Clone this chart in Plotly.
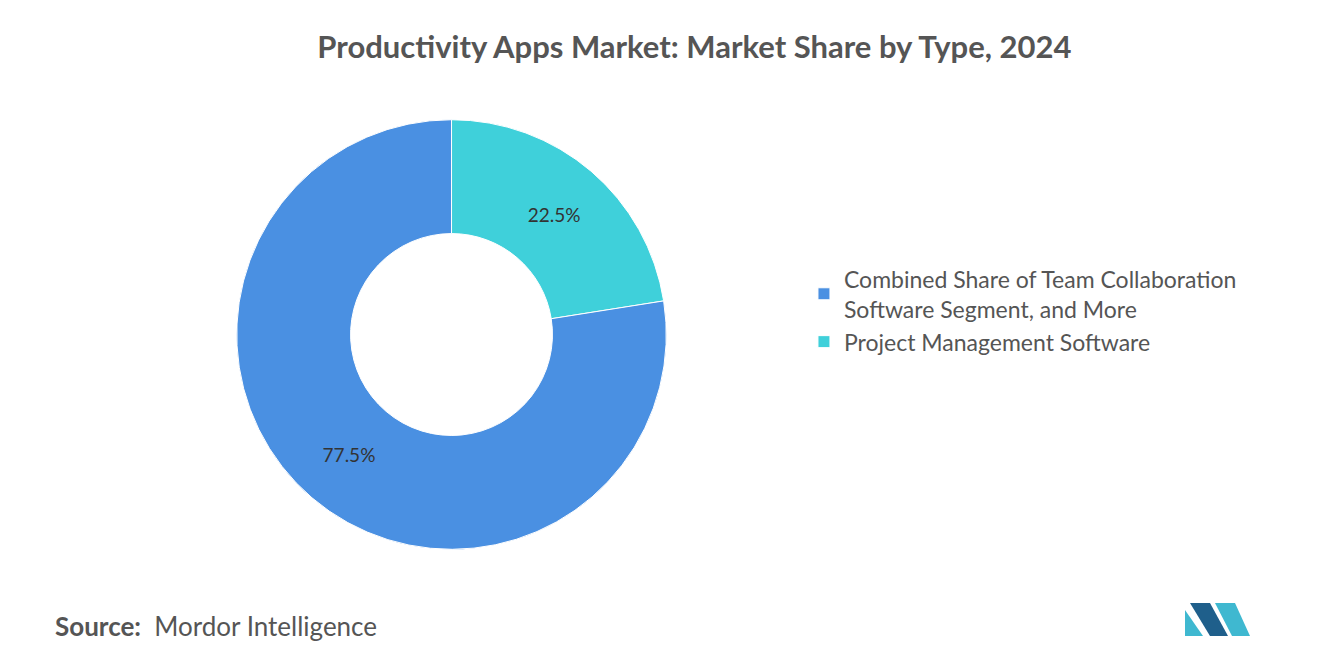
import plotly.graph_objects as go

labels = ["Project Management Software", "Combined Share of Team Collaboration<br>Software Segment, and More"]
values = [22.5, 77.5]
colors = ["#3FD0DA", "#4A90E2"]

fig = go.Figure(go.Pie(
    labels=labels, values=values, hole=0.47, sort=False, direction="clockwise", rotation=0,
    marker=dict(colors=colors, line=dict(color="white", width=1)),
    texttemplate="%{value}%", textposition="inside",
    insidetextfont=dict(color="#333", size=19, family="Lato"),
    domain=dict(x=[0.173, 0.499], y=[0.186, 0.832]),
))
fig.update_layout(
    template="none",
    width=1320, height=665, margin=dict(l=0, r=0, t=0, b=0),
    paper_bgcolor="white", plot_bgcolor="white", font=dict(family="Lato", color="#555"),
    title=dict(text="<b>Productivity Apps Market: Market Share by Type, 2024</b>", x=0.52, y=0.941,
               xanchor="center", yanchor="middle", font=dict(size=31, color="#555", family="Lato")),
    legend=dict(x=0.603, y=0.625, xanchor="left", yanchor="top", font=dict(size=23, color="#555"),
                bgcolor="rgba(0,0,0,0)", traceorder="reversed"),
    annotations=[dict(text="<b>Source:</b>  Mordor Intelligence", x=0.034, y=0.07, xref="paper", yref="paper",
                      xanchor="left", yanchor="middle", showarrow=False, font=dict(size=26, color="#555"))],
    shapes=[
        dict(type="path", path="M1177,628 L1177,602 L1195,628 Z", xref="x", yref="y", fillcolor="#3FB8D0", line_width=0),
        dict(type="path", path="M1182,595 L1202,595 L1220,628 L1202,628 Z", xref="x", yref="y", fillcolor="#1F5F8B", line_width=0),
        dict(type="path", path="M1207,595 L1227,595 L1242,628 L1224,628 Z", xref="x", yref="y", fillcolor="#3FB8D0", line_width=0),
    ],
    xaxis=dict(range=[0, 1320], visible=False, domain=[0, 1]),
    yaxis=dict(range=[665, 0], visible=False, domain=[0, 1]),
)
fig.write_html("out.html")
